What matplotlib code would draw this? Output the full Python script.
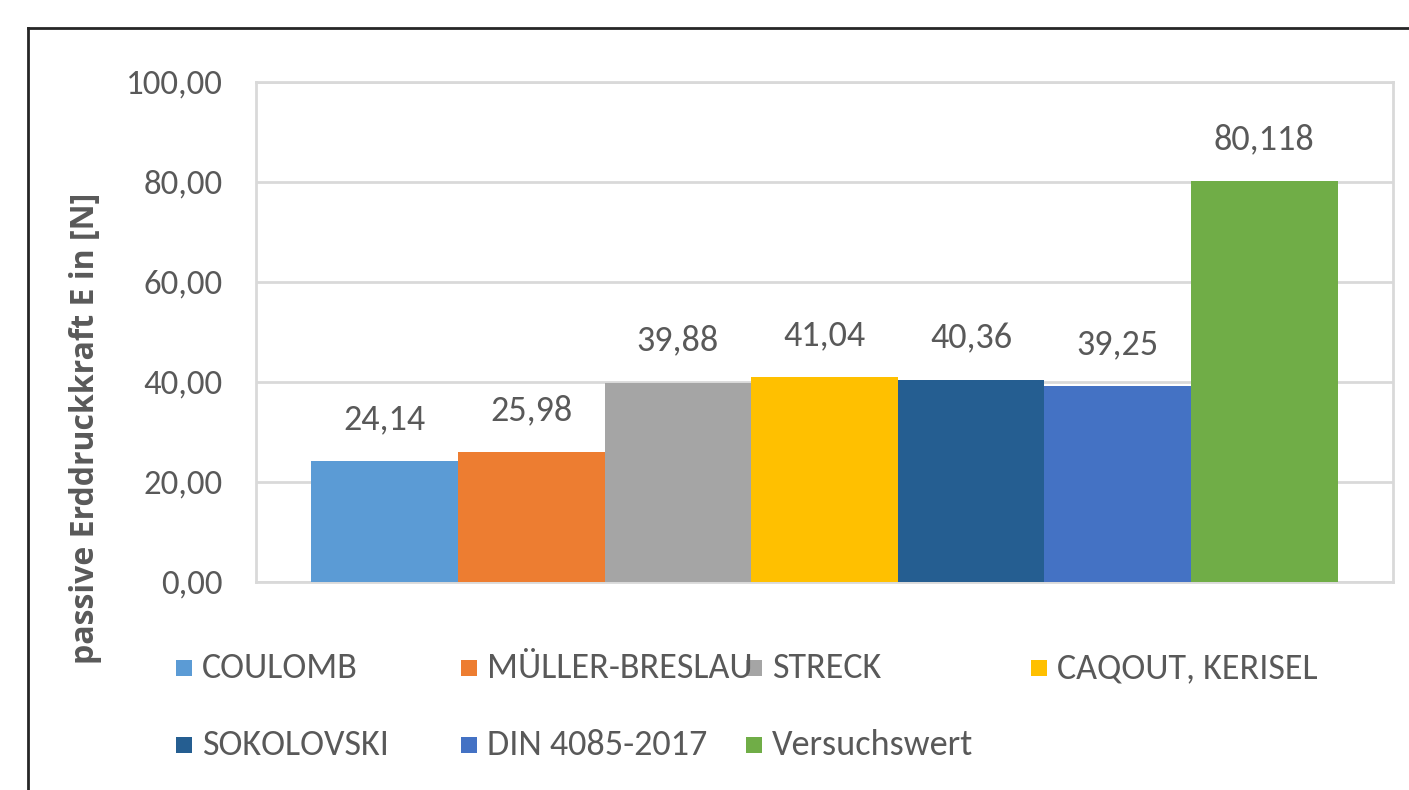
import matplotlib
matplotlib.use("Agg")
import matplotlib.pyplot as plt
from matplotlib.patches import Rectangle
from matplotlib.lines import Line2D

# ---- data ----
methods = ["COULOMB", "MÜLLER-BRESLAU", "STRECK", "CAQOUT, KERISEL",
           "SOKOLOVSKI", "DIN 4085-2017", "Versuchswert"]
values = [24.14, 25.98, 39.88, 41.04, 40.36, 39.25, 80.118]
value_labels = ["24,14", "25,98", "39,88", "41,04", "40,36", "39,25", "80,118"]
colors = ["#5B9BD5", "#ED7D31", "#A5A5A5", "#FFC000", "#255E91", "#4472C4", "#70AD47"]
yticks = [0, 20, 40, 60, 80, 100]
ytick_labels = ["0,00", "20,00", "40,00", "60,00", "80,00", "100,00"]
ylabel = "passive Erddruckkraft E in [N]"

W, H = 1409, 790
fig = plt.figure(figsize=(W / 100, H / 100), dpi=100)
fig.patch.set_facecolor("white")

txt_col = "#595959"
grid_col = "#D9D9D9"
fam = ["Carlito", "Lato", "DejaVu Sans"]
fam_lab = ["Open Sans", "Lato", "DejaVu Sans"]

# plot area in pixels
left, right, top, bottom = 256, 1393, 82, 582
ax = fig.add_axes([left / W, 1 - bottom / H, (right - left) / W, (bottom - top) / H])

x = list(range(len(values)))
ax.bar(x, values, width=1.0, color=colors, zorder=3, linewidth=0)
ax.set_xlim(-0.5 - 0.378, len(values) - 0.5 + 0.378)
ax.set_ylim(0, 100)
ax.set_yticks(yticks)
ax.set_yticklabels(ytick_labels, fontfamily=fam, fontsize=25, color=txt_col)
ax.tick_params(axis="y", length=0, pad=24)
ax.set_xticks([])
ax.grid(axis="y", color=grid_col, linewidth=2, zorder=0)
for s in ax.spines.values():
    s.set_color(grid_col)
    s.set_linewidth(2)

for xi, v, lab in zip(x, values, value_labels):
    ax.annotate(lab, (xi, v), xytext=(0, 23), textcoords="offset points",
                ha="center", va="baseline", fontsize=26, color=txt_col,
                fontfamily=fam)

fig.text(86 / W, 1 - 428 / H, ylabel, rotation=90, ha="center", va="center",
         fontsize=23, color=txt_col, fontweight="bold", fontfamily=fam_lab)

# legend (manual, Excel-like equal column spacing)
col_x = [176, 461, 746, 1031]
row_y = [668, 745]
for i, (name, c) in enumerate(zip(methods, colors)):
    r, cidx = divmod(i, 4)
    px, py = col_x[cidx], row_y[r]
    fig.patches.append(Rectangle((px / W, 1 - (py + 8) / H), 16 / W, 16 / H,
                                 transform=fig.transFigure, facecolor=c,
                                 edgecolor="none"))
    fig.text((px + 26) / W, 1 - py / H, name, ha="left", va="center",
             fontsize=26, color=txt_col, fontfamily=fam)

# outer chart frame (cut off at right/bottom)
fig.add_artist(Line2D([28 / W, 28 / W], [0, 1 - 28 / H], transform=fig.transFigure,
                      color="#262626", linewidth=2))
fig.add_artist(Line2D([28 / W, 1], [1 - 28 / H, 1 - 28 / H], transform=fig.transFigure,
                      color="#262626", linewidth=2))

fig.savefig("out.png", dpi=100)
